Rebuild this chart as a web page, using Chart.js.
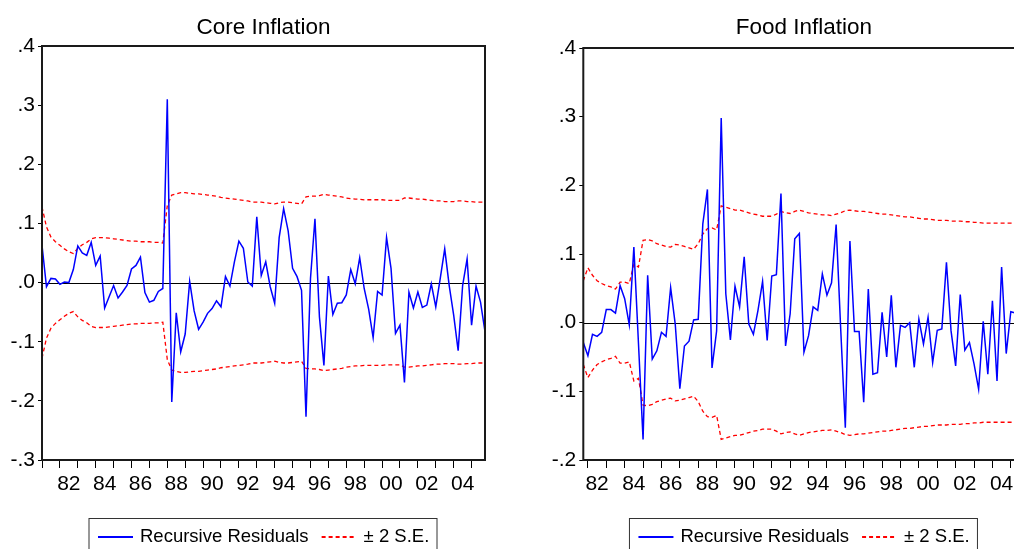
<!DOCTYPE html>
<html>
<head>
<meta charset="utf-8">
<script src="https://cdn.jsdelivr.net/npm/chart.js@4.4.1/dist/chart.umd.min.js"></script>
<style>
  html, body { margin: 0; padding: 0; background: #fff; }
  #wrap { position: relative; width: 1014px; height: 549px; overflow: hidden; }
  canvas { position: absolute; top: 0; }
  #core { left: 0; }
  #food { left: 540px; }
</style>
</head>
<body>
<div id="wrap">
  <canvas id="core" width="520" height="549"></canvas>
  <canvas id="food" width="520" height="549"></canvas>
</div>
<script>
// Recursive residuals (quarterly) with their ±2 standard-error band

// Core inflation: 1981Q1 - 2005Q4
const coreStart = 1981.0;
const coreResid = [
  0.063, -0.007, 0.007, 0.006, -0.003, 0.001, 0.000, 0.022, 0.062, 0.050,
  0.046, 0.068, 0.029, 0.045, -0.043, -0.024, -0.005, -0.026, -0.016, -0.005,
  0.023, 0.029, 0.043, -0.017, -0.033, -0.030, -0.015, -0.010, 0.310, -0.202,
  -0.051, -0.117, -0.087, 0.002, -0.048, -0.079, -0.067, -0.052, -0.044, -0.031,
  -0.041, 0.010, -0.006, 0.035, 0.070, 0.058, 0.001, -0.006, 0.111, 0.012,
  0.035, -0.007, -0.035, 0.076, 0.125, 0.088, 0.024, 0.010, -0.013, -0.227,
  0.007, 0.108, -0.058, -0.140, 0.011, -0.054, -0.035, -0.034, -0.021, 0.022,
  -0.002, 0.042, -0.010, -0.045, -0.093, -0.015, -0.021, 0.076, 0.024, -0.086,
  -0.072, -0.169, -0.016, -0.043, -0.016, -0.042, -0.038, -0.002, -0.041, 0.007,
  0.057, -0.005, -0.055, -0.115, -0.005, 0.040, -0.072, -0.006, -0.033, -0.083
];
const coreTwoSE = [
  0.128, 0.094, 0.077, 0.069, 0.063, 0.057, 0.052, 0.049, 0.058, 0.064,
  0.068, 0.074, 0.076, 0.076, 0.076, 0.075, 0.074, 0.073, 0.072, 0.071,
  0.070, 0.070, 0.069, 0.069, 0.069, 0.068, 0.068, 0.067, 0.130, 0.148,
  0.150, 0.152, 0.152, 0.151, 0.150, 0.150, 0.149, 0.148, 0.147, 0.146,
  0.144, 0.143, 0.142, 0.141, 0.140, 0.139, 0.138, 0.136, 0.136, 0.136,
  0.135, 0.134, 0.133, 0.135, 0.136, 0.136, 0.135, 0.134, 0.133, 0.145,
  0.146, 0.146, 0.147, 0.149, 0.148, 0.147, 0.146, 0.145, 0.143, 0.142,
  0.141, 0.141, 0.140, 0.140, 0.140, 0.140, 0.140, 0.139, 0.139, 0.139,
  0.139, 0.143, 0.143, 0.142, 0.141, 0.141, 0.140, 0.139, 0.138, 0.138,
  0.137, 0.137, 0.137, 0.138, 0.138, 0.137, 0.137, 0.136, 0.136, 0.136
];

// Food inflation: 1981Q4 - 2005Q2
const foodStart = 1981.75;
const foodResid = [
  -0.029, -0.048, -0.017, -0.020, -0.014, 0.019, 0.019, 0.014, 0.054, 0.035,
  -0.003, 0.110, -0.030, -0.170, 0.069, -0.053, -0.041, -0.014, -0.020, 0.051,
  -0.002, -0.096, -0.034, -0.027, 0.004, 0.005, 0.144, 0.194, -0.066, -0.012,
  0.298, 0.042, -0.025, 0.053, 0.023, 0.096, -0.002, -0.017, 0.018, 0.060,
  -0.026, 0.068, 0.070, 0.188, -0.034, 0.013, 0.122, 0.130, -0.043, -0.019,
  0.023, 0.018, 0.071, 0.040, 0.058, 0.143, -0.010, -0.153, 0.119, -0.013,
  -0.013, -0.116, 0.049, -0.075, -0.073, 0.015, -0.050, 0.040, -0.065, -0.004,
  -0.007, 0.000, -0.065, 0.005, -0.031, 0.008, -0.058, -0.011, -0.009, 0.088,
  -0.012, -0.063, 0.041, -0.040, -0.029, -0.060, -0.097, 0.002, -0.075, 0.032,
  -0.085, 0.081, -0.045, 0.016, 0.014
];
const foodTwoSE = [
  0.061, 0.080, 0.069, 0.061, 0.057, 0.054, 0.052, 0.049, 0.059, 0.059,
  0.057, 0.085, 0.081, 0.120, 0.121, 0.119, 0.115, 0.113, 0.111, 0.110,
  0.114, 0.113, 0.111, 0.109, 0.107, 0.115, 0.129, 0.137, 0.138, 0.135,
  0.170, 0.168, 0.166, 0.164, 0.164, 0.162, 0.160, 0.158, 0.157, 0.155,
  0.155, 0.155, 0.158, 0.162, 0.160, 0.159, 0.162, 0.164, 0.162, 0.160,
  0.159, 0.158, 0.157, 0.157, 0.156, 0.158, 0.160, 0.163, 0.164, 0.163,
  0.162, 0.162, 0.161, 0.160, 0.159, 0.158, 0.158, 0.157, 0.156, 0.155,
  0.154, 0.154, 0.153, 0.152, 0.151, 0.151, 0.150, 0.149, 0.149, 0.149,
  0.148, 0.148, 0.148, 0.147, 0.147, 0.146, 0.146, 0.145, 0.145, 0.145,
  0.145, 0.145, 0.145, 0.145, 0.145
];

// Year labels under the x axis (every other year, centred within the year)
const yearTickLabels = ['82', '84', '86', '88', '90', '92', '94', '96', '98', '00', '02', '04'];
const yearTickPositions = [1982, 1984, 1986, 1988, 1990, 1992, 1994, 1996, 1998, 2000, 2002, 2004];

const FONT = "'Liberation Sans', Arial, Helvetica, sans-serif";
const BLUE = '#0000ff';
const RED = '#ff0000';

function quarterPoints(start, values) {
  return values.map((v, i) => ({ x: start + i / 4, y: v }));
}

function fmtY(v) {
  const n = Math.round(v * 10);
  if (n === 0) return '.0';
  return n < 0 ? '-.' + (-n) : '.' + n;
}

const panelDecor = {
  id: 'panelDecor',
  beforeDatasetsDraw(chart) {
    const { ctx, chartArea: a, scales } = chart;
    const y0 = Math.round(scales.y.getPixelForValue(0)) + 0.5;
    ctx.save();
    ctx.strokeStyle = '#000';
    ctx.lineWidth = 1;
    ctx.beginPath();
    ctx.moveTo(a.left, y0);
    ctx.lineTo(a.right, y0);
    ctx.stroke();
    ctx.restore();
  },
  afterDraw(chart, args, opts) {
    const { ctx, chartArea: a } = chart;
    ctx.save();
    // plot frame
    ctx.strokeStyle = '#1a1a1a';
    ctx.lineWidth = 2;
    ctx.strokeRect(a.left, a.top, a.right - a.left, a.bottom - a.top);

    const cx = (a.left + a.right) / 2;
    // title
    ctx.fillStyle = '#000';
    ctx.font = '22.5px ' + FONT;
    ctx.textAlign = 'center';
    ctx.textBaseline = 'alphabetic';
    ctx.fillText(opts.title, cx, opts.titleY);

    // legend box
    const bx = cx - 174.5, by = 518.5, bw = 348, bh = 40;
    ctx.lineWidth = 1;
    ctx.strokeStyle = '#333';
    ctx.strokeRect(bx, by, bw, bh);
    ctx.font = '18.5px ' + FONT;
    ctx.textAlign = 'left';
    ctx.textBaseline = 'middle';
    const ly = 537;
    let x = bx + 9;
    const seen = new Set();
    chart.data.datasets.forEach(ds => {
      if (seen.has(ds.label)) return;
      seen.add(ds.label);
      ctx.strokeStyle = ds.borderColor;
      ctx.lineWidth = 2;
      ctx.setLineDash(ds.borderDash || []);
      ctx.beginPath();
      ctx.moveTo(x, ly);
      ctx.lineTo(x + 35, ly);
      ctx.stroke();
      ctx.setLineDash([]);
      x += 42;
      ctx.fillStyle = '#000';
      ctx.fillText(ds.label, x, ly);
      x += ctx.measureText(ds.label).width + 13;
    });
    ctx.restore();
  }
};

function makeChart(id, cfg) {
  const datasets = [
    { label: 'Recursive Residuals', data: quarterPoints(cfg.start, cfg.resid),
      borderColor: BLUE, borderWidth: 1.5, order: 0 },
    { label: '± 2 S.E.', data: quarterPoints(cfg.start, cfg.band),
      borderColor: RED, borderWidth: 1.3, borderDash: [4, 3], order: 1 },
    { label: '± 2 S.E.', data: quarterPoints(cfg.start, cfg.band.map(v => -v)),
      borderColor: RED, borderWidth: 1.3, borderDash: [4, 3], order: 1 }
  ];
  datasets.forEach(d => { d.pointRadius = 0; d.tension = 0; d.fill = false; });

  return new Chart(document.getElementById(id), {
    type: 'line',
    data: { datasets },
    plugins: [panelDecor],
    options: {
      responsive: false,
      devicePixelRatio: 1,
      animation: false,
      events: [],
      layout: { padding: { left: 0, top: cfg.top, right: cfg.right, bottom: 0 } },
      plugins: {
        legend: { display: false },
        title: { display: false },
        tooltip: { enabled: false },
        panelDecor: { title: cfg.title, titleY: 34.3 }
      },
      scales: {
        x: {
          type: 'linear',
          min: cfg.start,
          max: cfg.end,
          afterFit: s => { s.height = 89; },
          afterBuildTicks: s => {
            const t = [];
            for (let yr = Math.ceil(cfg.start); yr <= Math.floor(cfg.end); yr++) t.push({ value: yr });
            yearTickPositions.forEach(p => t.push({ value: p + 0.5 }));
            t.sort((p, q) => p.value - q.value);
            s.ticks = t;
          },
          grid: {
            drawOnChartArea: false,
            drawTicks: true,
            tickLength: 8,
            tickWidth: 1,
            tickColor: c => (c.tick && Number.isInteger(c.tick.value)) ? '#000' : 'rgba(0,0,0,0)'
          },
          border: { display: false },
          ticks: {
            autoSkip: false,
            maxRotation: 0,
            minRotation: 0,
            padding: 4,
            color: '#000',
            font: { family: FONT, size: 21 },
            callback: v => {
              const k = yearTickPositions.indexOf(v - 0.5);
              return k >= 0 ? yearTickLabels[k] : '';
            }
          }
        },
        y: {
          min: cfg.ymin,
          max: cfg.ymax,
          afterFit: s => { s.width = cfg.yWidth; },
          grid: { drawOnChartArea: false, drawTicks: true, tickLength: 4, tickColor: '#000', tickWidth: 1 },
          border: { display: false },
          ticks: {
            stepSize: 0.1,
            padding: 3,
            color: '#000',
            font: { family: FONT, size: 21 },
            callback: v => fmtY(v)
          }
        }
      }
    }
  });
}

makeChart('core', {
  title: 'Core Inflation', start: coreStart, end: 2005.75,
  resid: coreResid, band: coreTwoSE, ymin: -0.3, ymax: 0.4,
  top: 46, right: 35, yWidth: 42
});

makeChart('food', {
  title: 'Food Inflation', start: foodStart, end: 2005.75,
  resid: foodResid, band: foodTwoSE, ymin: -0.2, ymax: 0.4,
  top: 48, right: 35.4, yWidth: 43.3
});
</script>
</body>
</html>
